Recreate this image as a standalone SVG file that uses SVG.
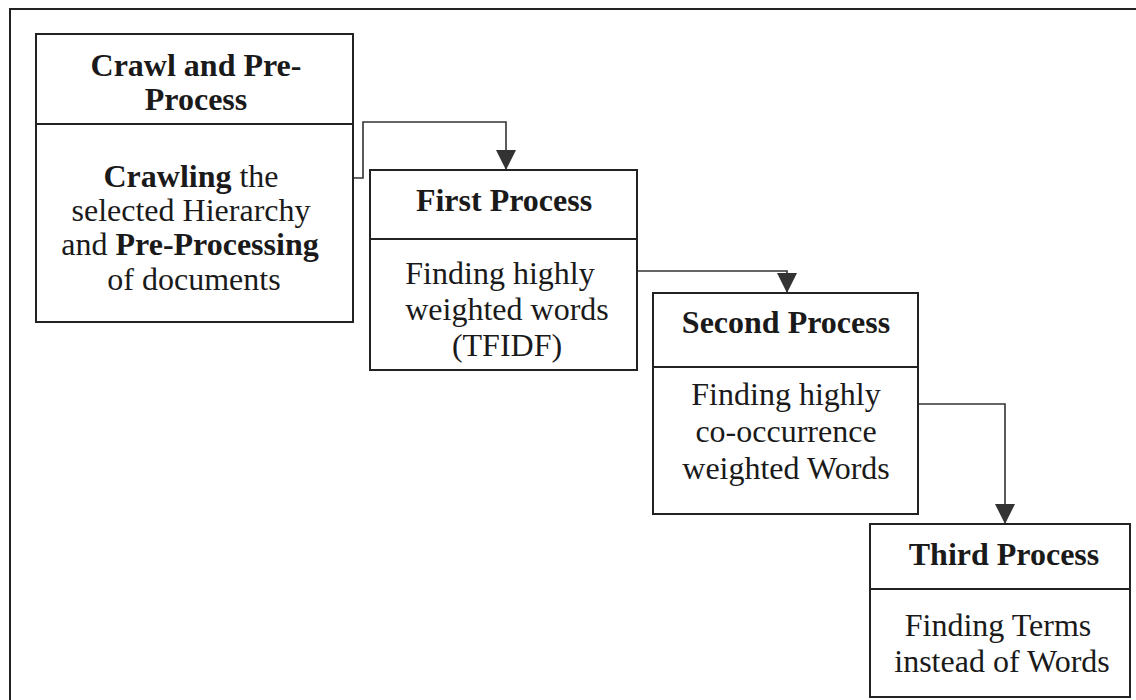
<svg xmlns="http://www.w3.org/2000/svg" width="1136" height="700" viewBox="0 0 1136 700">
  <defs>
    <style>
      .frame { fill: none; stroke: #222; stroke-width: 2; }
      .box { fill: #fff; stroke: #222; stroke-width: 2; }
      .div { stroke: #222; stroke-width: 2; }
      .wire { fill: none; stroke: #333; stroke-width: 1.6; }
      .t { font-family: "Liberation Serif", "Times New Roman", serif; font-size: 32px; fill: #1a1a1a; text-anchor: middle; }
      .h { font-weight: bold; }
    </style>
    <marker id="arrow" viewBox="0 0 20 20" refX="20" refY="10" markerWidth="20" markerHeight="20" markerUnits="userSpaceOnUse" orient="auto">
      <path d="M0,0 L20,10 L0,20 Z" fill="#333"/>
    </marker>
  </defs>

  <rect width="1136" height="700" fill="#fff"/>
  <!-- outer border -->
  <rect class="frame" x="10" y="9" width="1140" height="705"/>

  <!-- connectors -->
  <g id="connectors">
    <path class="wire" d="M353,178 H363 V122 H506 V170" marker-end="url(#arrow)"/>
    <path class="wire" d="M637,271 H787 V293" marker-end="url(#arrow)"/>
    <path class="wire" d="M918,404 H1005 V524" marker-end="url(#arrow)"/>
  </g>

  <!-- Crawl and Pre-Process -->
  <g id="crawl">
    <rect class="box" x="36" y="34" width="317" height="288"/>
    <line class="div" x1="36" y1="124" x2="353" y2="124"/>
    <text class="t h" x="196" y="76">Crawl and Pre-</text>
    <text class="t h" x="196" y="110">Process</text>
    <text class="t" x="191" y="187"><tspan class="h">Crawling</tspan> the</text>
    <text class="t" x="191" y="221">selected Hierarchy</text>
    <text class="t" x="190" y="255">and <tspan class="h">Pre-Processing</tspan></text>
    <text class="t" x="194" y="290">of documents</text>
  </g>

  <!-- First Process -->
  <g id="first">
    <rect class="box" x="370" y="170" width="267" height="200"/>
    <line class="div" x1="370" y1="239" x2="637" y2="239"/>
    <text class="t h" x="504" y="211">First Process</text>
    <text class="t" x="500" y="284">Finding highly</text>
    <text class="t" x="507" y="320">weighted words</text>
    <text class="t" x="507" y="356">(TFIDF)</text>
  </g>

  <!-- Second Process -->
  <g id="second">
    <rect class="box" x="653" y="293" width="265" height="221"/>
    <line class="div" x1="653" y1="367" x2="918" y2="367"/>
    <text class="t h" x="786" y="333">Second Process</text>
    <text class="t" x="786" y="405">Finding highly</text>
    <text class="t" x="786" y="442">co-occurrence</text>
    <text class="t" x="786" y="479">weighted Words</text>
  </g>

  <!-- Third Process -->
  <g id="third">
    <rect class="box" x="870" y="524" width="260" height="173"/>
    <line class="div" x1="870" y1="589" x2="1130" y2="589"/>
    <text class="t h" x="1004" y="565">Third Process</text>
    <text class="t" x="998" y="636">Finding Terms</text>
    <text class="t" x="1002" y="672">instead of Words</text>
  </g>
</svg>
